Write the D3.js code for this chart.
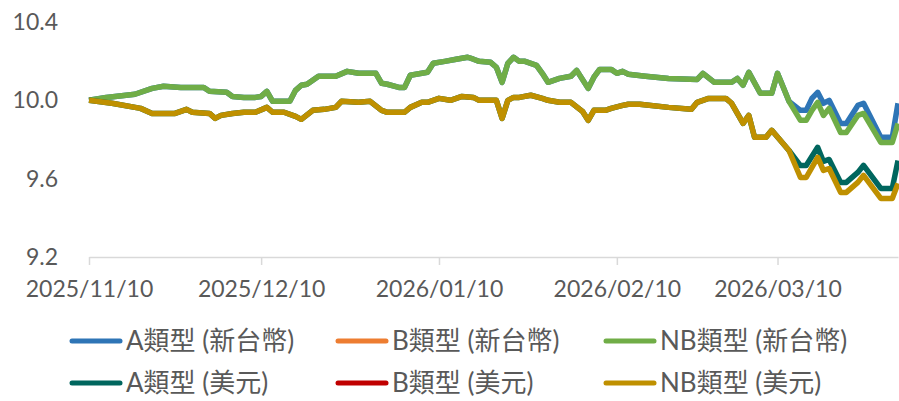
<!DOCTYPE html>
<html>
<head>
<meta charset="utf-8">
<script src="https://cdn.jsdelivr.net/npm/d3@7"></script>
<style>
  body { margin: 0; background: #fff; }
  text { font-family: Lato, "Noto Sans CJK TC", sans-serif; fill: #595959; }
</style>
</head>
<body>
<div id="chart"></div>
<script>
// NTD share classes (A and NB overlap until mid March)
const ntdDates = ['2025-11-10','2025-11-13','2025-11-18','2025-11-21','2025-11-23','2025-11-26','2025-11-30',
  '2025-12-01','2025-12-04','2025-12-05','2025-12-07','2025-12-09','2025-12-10','2025-12-11','2025-12-12',
  '2025-12-15','2025-12-16','2025-12-17','2025-12-18','2025-12-20','2025-12-23','2025-12-25','2025-12-27',
  '2025-12-30','2025-12-31','2026-01-01','2026-01-03','2026-01-04','2026-01-05','2026-01-08','2026-01-09',
  '2026-01-11','2026-01-13','2026-01-15','2026-01-16','2026-01-17','2026-01-19','2026-01-20','2026-01-21',
  '2026-01-22','2026-01-23','2026-01-24','2026-01-25','2026-01-27','2026-01-28','2026-01-29','2026-01-30',
  '2026-01-31','2026-02-02','2026-02-03','2026-02-04','2026-02-05','2026-02-06','2026-02-07','2026-02-09',
  '2026-02-10','2026-02-11','2026-02-12','2026-02-15','2026-02-19','2026-02-24','2026-02-25','2026-02-27',
  '2026-03-02','2026-03-03','2026-03-04','2026-03-05','2026-03-07','2026-03-09','2026-03-10','2026-03-12',
  '2026-03-14','2026-03-15','2026-03-16','2026-03-17','2026-03-18','2026-03-19','2026-03-21','2026-03-22',
  '2026-03-24','2026-03-25','2026-03-28','2026-03-30','2026-03-31'];
const nbNtd = [10.000,10.015,10.031,10.061,10.072,10.066,10.066,
  10.046,10.041,10.020,10.015,10.015,10.020,10.046,9.995,
  9.995,10.051,10.077,10.082,10.123,10.123,10.148,10.138,
  10.138,10.087,10.082,10.066,10.066,10.128,10.143,10.189,
  10.199,10.210,10.220,10.210,10.199,10.194,10.169,10.092,
  10.189,10.220,10.199,10.199,10.179,10.138,10.092,10.102,
  10.112,10.123,10.153,10.107,10.061,10.118,10.158,10.158,
  10.138,10.148,10.133,10.123,10.112,10.107,10.138,10.092,
  10.092,10.112,10.077,10.143,10.036,10.036,10.138,9.995,
  9.898,9.898,9.949,9.990,9.923,9.959,9.836,9.836,
  9.923,9.933,9.785,9.785,9.882];
const aNtd = [10.000,10.015,10.031,10.061,10.072,10.066,10.066,
  10.046,10.041,10.020,10.015,10.015,10.020,10.046,9.995,
  9.995,10.051,10.077,10.082,10.123,10.123,10.148,10.138,
  10.138,10.087,10.082,10.066,10.066,10.128,10.143,10.189,
  10.199,10.210,10.220,10.210,10.199,10.194,10.169,10.092,
  10.189,10.220,10.199,10.199,10.179,10.138,10.092,10.102,
  10.112,10.123,10.153,10.107,10.061,10.118,10.158,10.158,
  10.138,10.148,10.133,10.123,10.112,10.107,10.138,10.092,
  10.092,10.112,10.077,10.143,10.036,10.036,10.138,9.995,
  9.949,9.949,10.010,10.041,9.985,10.000,9.882,9.882,
  9.974,9.985,9.811,9.811,9.985];

// USD share classes
const usdDates = ['2025-11-10','2025-11-14','2025-11-19','2025-11-21','2025-11-25','2025-11-27','2025-11-28',
  '2025-12-01','2025-12-02','2025-12-03','2025-12-05','2025-12-07','2025-12-09','2025-12-11','2025-12-12',
  '2025-12-14','2025-12-16','2025-12-17','2025-12-19','2025-12-21','2025-12-23','2025-12-24','2025-12-27',
  '2025-12-29','2025-12-31','2026-01-01','2026-01-04','2026-01-05','2026-01-07','2026-01-08','2026-01-10',
  '2026-01-12','2026-01-14','2026-01-16','2026-01-17','2026-01-20','2026-01-21','2026-01-22','2026-01-23',
  '2026-01-24','2026-01-26','2026-01-28','2026-01-29','2026-01-30','2026-01-31','2026-02-02','2026-02-04',
  '2026-02-05','2026-02-06','2026-02-08','2026-02-09','2026-02-11','2026-02-12','2026-02-14','2026-02-19',
  '2026-02-23','2026-02-24','2026-02-26','2026-03-01','2026-03-02','2026-03-04','2026-03-05','2026-03-06',
  '2026-03-08','2026-03-09','2026-03-12','2026-03-14','2026-03-15','2026-03-17','2026-03-18','2026-03-19',
  '2026-03-21','2026-03-22','2026-03-24','2026-03-25','2026-03-28','2026-03-30','2026-03-31'];
const nbUsd = [10.000,9.985,9.959,9.933,9.933,9.954,9.939,
  9.933,9.908,9.923,9.933,9.939,9.939,9.964,9.939,
  9.939,9.918,9.903,9.949,9.954,9.964,9.995,9.990,
  9.995,9.949,9.939,9.939,9.964,9.990,9.990,10.010,
  10.000,10.020,10.015,10.000,10.000,9.908,10.000,10.015,
  10.015,10.026,10.010,10.000,9.995,9.990,9.990,9.944,
  9.898,9.949,9.949,9.959,9.974,9.980,9.980,9.964,
  9.954,9.990,10.010,10.010,9.985,9.882,9.923,9.811,
  9.811,9.847,9.744,9.606,9.606,9.709,9.642,9.652,
  9.530,9.530,9.581,9.617,9.499,9.499,9.576];
const aUsd = [10.000,9.985,9.959,9.933,9.933,9.954,9.939,
  9.933,9.908,9.923,9.933,9.939,9.939,9.964,9.939,
  9.939,9.918,9.903,9.949,9.954,9.964,9.995,9.990,
  9.995,9.949,9.939,9.939,9.964,9.990,9.990,10.010,
  10.000,10.020,10.015,10.000,10.000,9.908,10.000,10.015,
  10.015,10.026,10.010,10.000,9.995,9.990,9.990,9.944,
  9.898,9.949,9.949,9.959,9.974,9.980,9.980,9.964,
  9.954,9.990,10.010,10.010,9.985,9.882,9.923,9.811,
  9.811,9.847,9.744,9.667,9.667,9.760,9.688,9.698,
  9.581,9.581,9.632,9.668,9.550,9.550,9.693];

// B classes have no values in the chart, legend only
const bNtd = [];
const bUsd = [];

const yTicks = [9.2, 9.6, 10.0, 10.4];
const xTicks = ['2025-11-10', '2025-12-10', '2026-01-10', '2026-02-10', '2026-03-10'];
const xDomain = ['2025-11-10', '2026-03-31'];

const seriesNames = ['A類型 (新台幣)', 'B類型 (新台幣)', 'NB類型 (新台幣)', 'A類型 (美元)', 'B類型 (美元)', 'NB類型 (美元)'];
const seriesColors = ['#2e75b6', '#ed7d31', '#70ad47', '#00665e', '#c00000', '#bf9000'];

const width = 899;
const height = 401;
const parse = d3.timeParse('%Y-%m-%d');
const fontFamily = 'Lato, "Noto Sans CJK TC", sans-serif';

const series = [
    {dates: ntdDates, values: aNtd},
    {dates: ntdDates, values: bNtd},
    {dates: ntdDates, values: nbNtd},
    {dates: usdDates, values: aUsd},
    {dates: usdDates, values: bUsd},
    {dates: usdDates, values: nbUsd}
].map((s, i) => ({
    name: seriesNames[i],
    color: seriesColors[i],
    points: s.values.map((v, j) => ({date: parse(s.dates[j]), value: v}))
}));

const svg = d3.select('#chart')
    .append('svg')
    .attr('width', width)
    .attr('height', height);

const x = d3.scaleTime()
    .domain(xDomain.map(parse))
    .range([89, 898]);

const y = d3.scaleLinear()
    .domain([9.2, 10.4])
    .range([257, 22]);

// x axis
const xAxis = svg.append('g')
    .attr('transform', 'translate(0,257)')
    .call(d3.axisBottom(x)
        .tickValues(xTicks.map(parse))
        .tickFormat(d3.timeFormat('%Y/%m/%d'))
        .tickSizeInner(8)
        .tickSizeOuter(0)
        .tickPadding(16));
xAxis.select('.domain').attr('stroke', '#d9d9d9').attr('stroke-width', 1.5);
xAxis.selectAll('.tick line').attr('stroke', '#d9d9d9').attr('stroke-width', 1.5);
xAxis.selectAll('.tick text')
    .attr('font-size', 23)
    .attr('fill', '#595959')
    .style('font-family', fontFamily);

// y axis, labels only
const yAxis = svg.append('g')
    .attr('transform', 'translate(58,0)')
    .call(d3.axisLeft(y)
        .tickValues(yTicks)
        .tickFormat(d3.format('.1f'))
        .tickSize(0)
        .tickPadding(0));
yAxis.select('.domain').remove();
yAxis.selectAll('.tick text')
    .attr('font-size', 23)
    .attr('fill', '#595959')
    .style('font-family', fontFamily);

// lines
const line = d3.line()
    .x(d => x(d.date))
    .y(d => y(d.value));

svg.append('g')
    .selectAll('path')
    .data(series)
    .enter()
    .append('path')
    .attr('d', d => line(d.points))
    .attr('fill', 'none')
    .attr('stroke', d => d.color)
    .attr('stroke-width', 5.5)
    .attr('stroke-linejoin', 'round')
    .attr('stroke-linecap', 'butt');

// legend, 3 columns x 2 rows
const legendX = [72, 338, 606];
const legendY = [341, 383];
const legend = svg.append('g')
    .selectAll('g')
    .data(series)
    .enter()
    .append('g')
    .attr('transform', (d, i) => `translate(${legendX[i % 3]},${legendY[Math.floor(i / 3)]})`);

legend.append('line')
    .attr('x1', 0)
    .attr('x2', 48)
    .attr('stroke', d => d.color)
    .attr('stroke-width', 5)
    .attr('stroke-linecap', 'round');

legend.append('text')
    .attr('x', 54)
    .attr('y', 0)
    .attr('dy', '0.36em')
    .attr('font-size', 26)
    .text(d => d.name);
</script>
</body>
</html>
